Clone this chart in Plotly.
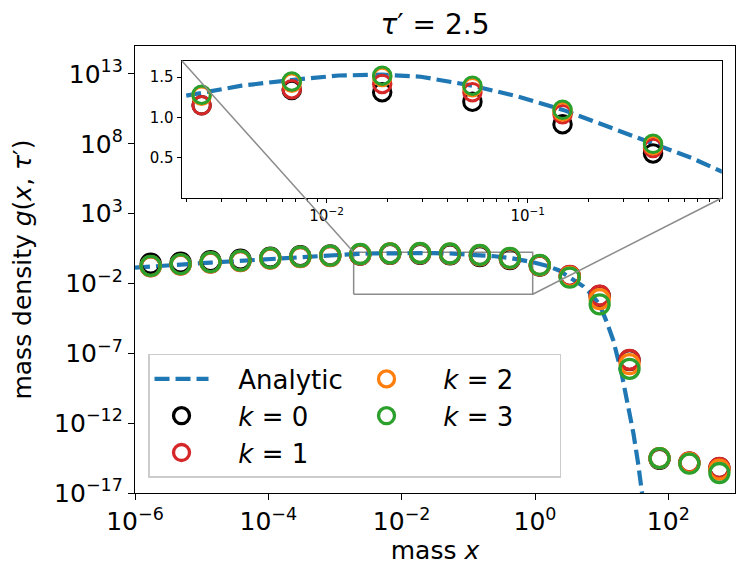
import math
import plotly.graph_objects as go

# ---------------- data ----------------
mass_x = [1.72e-6, 4.83e-6, 1.36e-5, 3.82e-5, 1.07e-4, 3.02e-4, 8.49e-4,
          2.39e-3, 6.71e-3, 1.89e-2, 5.31e-2, 0.149, 0.420,
          1.18, 3.32, 9.33, 26.2, 73.8, 207.0, 583.0]

g_k0 = [0.263, 0.309, 0.398, 0.513, 0.708, 0.891, 1.02,
        1.15, 1.34, 1.314, 1.196, 0.916, 0.554,
        0.19, 0.034, 1.3e-3, 3.3e-8, 2.8e-15, 1.5e-15, 6.0e-16]

g_k1 = [0.170, 0.224, 0.312, 0.406, 0.603, 0.783, 0.925,
        1.151, 1.350, 1.416, 1.314, 1.041, 0.621,
        0.20, 0.035, 1.36e-3, 3.43e-8, 3.1e-15, 1.58e-15, 6.2e-16]

g_k2 = [0.174, 0.229, 0.319, 0.415, 0.617, 0.800, 0.946,
        1.27, 1.43, 1.50, 1.375, 1.075, 0.655,
        0.205, 0.030, 7.5e-4, 1.69e-8, 3.1e-15, 1.4e-15, 4.7e-16]

g_k3 = [0.182, 0.240, 0.334, 0.435, 0.646, 0.839, 0.991,
        1.283, 1.447, 1.518, 1.394, 1.094, 0.674,
        0.215, 0.0264, 3.2e-4, 7.8e-9, 3.19e-15, 1.25e-15, 2.7e-16]

analytic_x = [1e-6, 1.72e-6, 4.83e-6, 1.36e-5, 3.82e-5, 1.07e-4, 3.02e-4, 8.49e-4,
              1.9e-3, 3.78e-3, 6.65e-3, 1.15e-2, 1.89e-2, 2.94e-2, 5.3e-2, 8.91e-2,
              0.15, 0.249, 0.419, 0.65, 0.914, 1.18, 1.6, 2.3, 3.32, 5.3, 7.0, 9.33,
              12.0, 15.0, 20.0, 25.0, 30.0, 35.0, 40.0, 45.0]
analytic_g = [0.135, 0.17, 0.225, 0.31, 0.42, 0.60, 0.80, 1.0,
              1.26, 1.394, 1.464, 1.52, 1.53, 1.505, 1.394, 1.261,
              1.094, 0.886, 0.674, 0.50, 0.334, 0.25, 0.17, 0.085, 0.028, 6.3e-3, 1.7e-3, 3.0e-4,
              1.6e-5, 8.0e-7, 3.2e-9, 2.0e-11, 1.8e-13, 1.6e-15, 1.8e-17, 2.0e-19]

analytic_name = "Analytic"
series_names = ["<i>k</i> = 0", "<i>k</i> = 1", "<i>k</i> = 2", "<i>k</i> = 3"]
series_colors = ["#000000", "#d62728", "#ff7f0e", "#2ca02c"]
series_values = [g_k0, g_k1, g_k2, g_k3]
legend_ranks = [3, 5, 2, 4]   # column-wise fill like the reference legend

main_x_exps = [-6, -4, -2, 0, 2]
main_y_exps = [-17, -12, -7, -2, 3, 8, 13]
inset_x_exps = [-2, -1]
inset_y_ticks = [0.5, 1.0, 1.5]

# axis limits
X_RANGE = [-6, 3]          # log10
Y_RANGE = [-17, 15]        # log10
INSET_X = [1.905e-3, 0.923]
INSET_Y = [0.0017, 1.703]
INSET_DOM_X = [0.078, 0.978]
INSET_DOM_Y = [0.660, 0.967]

FONT = "DejaVu Sans"
BLUE = "#1f77b4"
GRAY = "#8c8c8c"
LEGEND_PAD = "\u00a0\u00a0\u00a0"   # gap between legend symbol and its text

# the page body keeps an 8 px margin, so the figure is 8 px smaller than the window
FIG_W, FIG_H = 739, 569


def sup_label(e):
    s = ("\u2212" + str(-e)) if e < 0 else str(e)
    return "10<sup>" + s + "</sup>"


fig = go.Figure()

# inset indicator rectangle on the main axes
fig.add_trace(go.Scatter(
    x=[INSET_X[0], INSET_X[1], INSET_X[1], INSET_X[0], INSET_X[0]],
    y=[INSET_Y[0], INSET_Y[0], INSET_Y[1], INSET_Y[1], INSET_Y[0]],
    mode="lines", line=dict(color=GRAY, width=1.5),
    showlegend=False, hoverinfo="skip", xaxis="x", yaxis="y"))

for axx, axy, msize, mlw, show in [("x", "y", 19, 3.3, True), ("x2", "y2", 17.5, 3.0, False)]:
    fig.add_trace(go.Scatter(
        x=analytic_x, y=analytic_g, mode="lines", name=LEGEND_PAD + analytic_name,
        line=dict(color=BLUE, width=4.2, dash="15px,6px"),
        showlegend=show, legendrank=1, xaxis=axx, yaxis=axy))
    for name, vals, col, rank in zip(series_names, series_values, series_colors, legend_ranks):
        fig.add_trace(go.Scatter(
            x=mass_x, y=vals, mode="markers", name=LEGEND_PAD + name,
            marker=dict(symbol="circle", size=msize, color="rgba(0,0,0,0)",
                        line=dict(color=col, width=mlw)),
            showlegend=show, legendrank=rank, xaxis=axx, yaxis=axy))


def paper_x(v):
    return (math.log10(v) - X_RANGE[0]) / (X_RANGE[1] - X_RANGE[0])


def paper_y(v):
    return (math.log10(v) - Y_RANGE[0]) / (Y_RANGE[1] - Y_RANGE[0])


# connector lines between the rectangle and the inset
fig.add_shape(type="line", xref="paper", yref="paper", layer="above",
              x0=INSET_DOM_X[0], y0=INSET_DOM_Y[1],
              x1=paper_x(INSET_X[0]), y1=paper_y(INSET_Y[1]),
              line=dict(color=GRAY, width=1.5))
fig.add_shape(type="line", xref="paper", yref="paper", layer="above",
              x0=INSET_DOM_X[1], y0=INSET_DOM_Y[0],
              x1=paper_x(INSET_X[1]), y1=paper_y(INSET_Y[0]),
              line=dict(color=GRAY, width=1.5))

axis_common = dict(showline=True, linecolor="black", linewidth=1.3, mirror=True,
                   ticks="outside", tickcolor="black", tickwidth=1.3,
                   showgrid=False, zeroline=False, automargin=False)

fig.update_layout(
    width=FIG_W, height=FIG_H,
    margin=dict(l=127, r=12, t=38, b=84, autoexpand=False),
    paper_bgcolor="white", plot_bgcolor="white",
    font=dict(family=FONT, color="black", size=25),
    title=dict(text="<i>\u03c4</i>\u2032 = 2.5", x=0.5, xref="paper", xanchor="center",
               y=1 - 16 / FIG_H, yref="container", yanchor="middle", automargin=False,
               font=dict(size=28, family=FONT)),
    xaxis=dict(type="log", range=X_RANGE, domain=[0, 1], anchor="y",
               tickvals=[10.0 ** e for e in main_x_exps],
               ticktext=[sup_label(e) for e in main_x_exps],
               ticklen=6, tickfont=dict(size=25),
               title=dict(text="mass <i>x</i>", font=dict(size=25), standoff=0),
               **axis_common),
    yaxis=dict(type="log", range=Y_RANGE, domain=[0, 1], anchor="x",
               tickvals=[10.0 ** e for e in main_y_exps],
               ticktext=[sup_label(e) for e in main_y_exps],
               ticklen=6, tickfont=dict(size=25),
               title=dict(text="mass density <i>g</i>(<i>x</i>, <i>\u03c4</i>\u2032)",
                          font=dict(size=25), standoff=19),
               **axis_common),
    xaxis2=dict(type="log", range=[math.log10(INSET_X[0]), math.log10(INSET_X[1])],
                domain=INSET_DOM_X, anchor="y2",
                tickvals=[10.0 ** e for e in inset_x_exps],
                ticktext=[sup_label(e) for e in inset_x_exps],
                ticklen=4, tickfont=dict(size=15),
                minor=dict(ticks="outside", ticklen=2.5, tickcolor="black", tickwidth=1,
                           tickvals=[m * 10.0 ** e for e in [-3, -2, -1] for m in range(2, 10)]),
                **axis_common),
    yaxis2=dict(range=INSET_Y, domain=INSET_DOM_Y, anchor="x2",
                tickvals=inset_y_ticks,
                ticktext=["%.1f" % t for t in inset_y_ticks],
                ticklen=4, tickfont=dict(size=15),
                **axis_common),
    legend=dict(orientation="h", x=0.0217, y=0.311, xanchor="left", yanchor="top",
                bgcolor="rgba(255,255,255,0.85)", bordercolor="#cccccc", borderwidth=1.5,
                font=dict(size=26, family=FONT), entrywidth=136, entrywidthmode="pixels",
                itemwidth=54, traceorder="normal"),
    showlegend=True,
)

fig.write_html("out.html")
